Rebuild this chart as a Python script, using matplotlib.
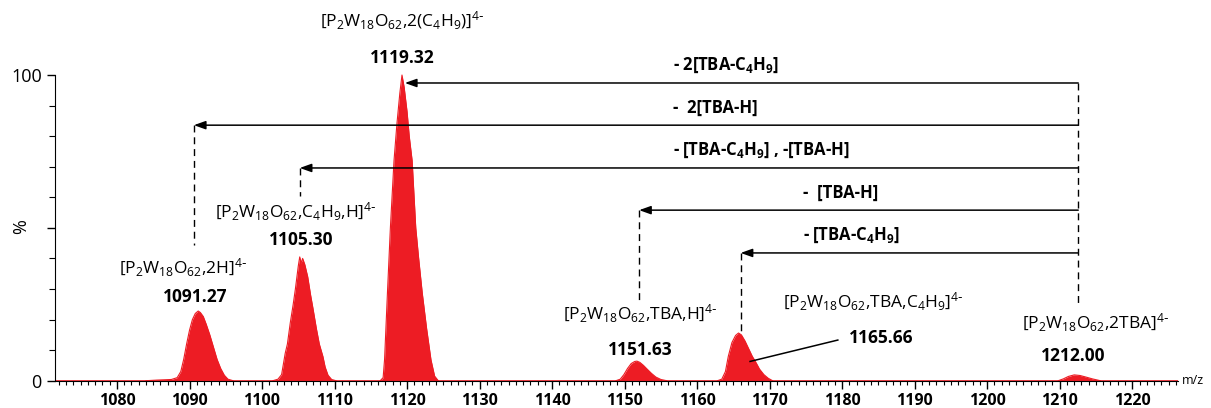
import matplotlib.pyplot as plt
import numpy as np

plt.rcParams['font.family'] = ['Open Sans', 'DejaVu Sans']
plt.rcParams['mathtext.default'] = 'regular'

RED = '#ED1C24'

# isotope-cluster envelopes: m/z and relative intensity (%)
mz_1091 = [1084.0, 1085.5, 1086.5, 1087.5, 1088.3, 1088.8, 1089.2, 1089.6, 1090.0, 1090.4,
           1090.8, 1091.2, 1091.5, 1091.9, 1092.3, 1092.8, 1093.3, 1093.8, 1094.3, 1094.8,
           1095.3, 1096.0]
in_1091 = [0.0, 0.2, 0.3, 0.4, 1.0, 3.0, 7.0, 12.0, 16.5, 20.0,
           22.0, 22.8, 22.3, 21.0, 18.5, 15.0, 11.0, 7.0, 4.0, 1.8,
           0.5, 0.0]

mz_1105 = [1101.5, 1102.2, 1102.7, 1103.2, 1103.5, 1103.9, 1104.3, 1104.6, 1105.0, 1105.2,
           1105.4, 1105.6, 1105.9, 1106.3, 1106.7, 1107.0, 1107.5, 1107.9, 1108.4, 1108.7,
           1109.1, 1109.6, 1110.2]
in_1105 = [0.0, 0.5, 2.0, 9.0, 12.0, 19.0, 25.0, 30.0, 37.5, 40.5,
           38.5, 40.0, 38.0, 34.0, 28.0, 24.0, 17.0, 12.0, 7.9, 4.5,
           1.8, 0.4, 0.0]

mz_1119 = [1116.3, 1116.7, 1116.9, 1117.3, 1117.7, 1118.2, 1118.6, 1119.0, 1119.3, 1119.6,
           1120.0, 1120.3, 1120.7, 1121.2, 1121.6, 1122.1, 1122.7, 1123.3, 1123.8, 1124.3]
in_1119 = [0.0, 1.0, 7.0, 29.0, 50.0, 72.0, 84.0, 94.0, 100.0, 96.0,
           88.0, 80.0, 72.0, 50.0, 40.0, 28.6, 17.0, 6.8, 1.5, 0.0]

mz_1151 = [1148.8, 1149.4, 1149.9, 1150.4, 1150.9, 1151.4, 1151.7, 1152.1, 1152.6, 1153.1,
           1153.7, 1154.3, 1155.0, 1155.8]
in_1151 = [0.0, 0.5, 2.0, 4.0, 5.6, 6.3, 6.4, 6.0, 5.0, 3.8,
           2.4, 1.2, 0.4, 0.0]

mz_1165 = [1162.8, 1163.4, 1163.9, 1164.3, 1164.8, 1165.3, 1165.7, 1166.1, 1166.6, 1167.1,
           1167.6, 1168.1, 1168.6, 1169.2, 1169.8, 1170.4]
in_1165 = [0.0, 0.5, 3.0, 8.0, 12.5, 14.8, 15.6, 15.0, 13.0, 10.5,
           8.0, 6.0, 3.8, 2.0, 0.8, 0.0]

mz_1212 = [1209.8, 1210.5, 1211.2, 1212.0, 1212.8, 1213.6, 1214.5, 1215.6]
in_1212 = [0.0, 0.6, 1.4, 1.9, 1.7, 1.2, 0.6, 0.0]

clusters = [(mz_1091, in_1091), (mz_1105, in_1105), (mz_1119, in_1119),
            (mz_1151, in_1151), (mz_1165, in_1165), (mz_1212, in_1212)]

# peak labels: (x formula, y formula, x value, y value, formula, value)
peak_labels = [
    (1119.3, 117.6, 1119.3, 105.6, r'[P$_2$W$_{18}$O$_{62}$,2(C$_4$H$_9$)]$^{4\text{-}}$', '1119.32'),
    (1104.6, 55.1, 1105.4, 46.0, r'[P$_2$W$_{18}$O$_{62}$,C$_4$H$_9$,H]$^{4\text{-}}$', '1105.30'),
    (1089.1, 36.8, 1090.8, 27.4, r'[P$_2$W$_{18}$O$_{62}$,2H]$^{4\text{-}}$', '1091.27'),
    (1152.2, 22.0, 1152.1, 10.0, r'[P$_2$W$_{18}$O$_{62}$,TBA,H]$^{4\text{-}}$', '1151.63'),
    (1184.3, 25.7, 1185.4, 14.0, r'[P$_2$W$_{18}$O$_{62}$,TBA,C$_4$H$_9$]$^{4\text{-}}$', '1165.66'),
    (1214.9, 18.9, 1211.9, 8.0, r'[P$_2$W$_{18}$O$_{62}$,2TBA]$^{4\text{-}}$', '1212.00'),
]

# loss arrows from the parent ion
SRC_MZ = 1212.55
arrow_tips   = [1119.7, 1090.6, 1105.2, 1152.0, 1166.0]
arrow_levels = [97.4, 83.6, 69.6, 55.8, 41.8]
drop_ends    = [None, 44.3, 60.4, 25.7, 16.0]
arrow_texts  = [r'- 2[TBA-C$_4$H$_9$]', r'-  2[TBA-H]', r'- [TBA-C$_4$H$_9$] , -[TBA-H]',
                r'-  [TBA-H]', r'- [TBA-C$_4$H$_9$]']
arrow_text_x = [1156.7, 1156.7, 1156.7, 1174.6, 1174.6]

fig = plt.figure(figsize=(12.11, 4.08), dpi=100)
ax = fig.add_axes([0.0454, 0.0669, 0.9273, 0.899])

ax.plot([1071.45, 1226.3], [0, 0], color=RED, lw=1.2, zorder=2)
for mz, inten in clusters:
    ax.fill_between(mz, 0, inten, color=RED, lw=0, zorder=2)
    ax.plot(mz, inten, color=RED, lw=0.8, zorder=2)

for xf, yf, xv, yv, formula, value in peak_labels:
    ax.text(xf, yf, formula, ha='center', va='center', fontsize=12.5)
    ax.text(xv, yv, value, ha='center', va='center', fontsize=12.5, fontweight='bold')

ax.plot([1167.3, 1179.4], [6.3, 13.3], color='black', lw=1.1, zorder=3)

dash = (0, (5, 3.5))
ax.plot([SRC_MZ, SRC_MZ], [arrow_levels[0], 24.7], color='black', lw=1.0, ls=dash)
for tip, lvl, drop, txt, tx in zip(arrow_tips, arrow_levels, drop_ends, arrow_texts, arrow_text_x):
    ax.annotate('', xy=(tip, lvl), xytext=(SRC_MZ, lvl),
                arrowprops=dict(arrowstyle='-|>,head_length=0.7,head_width=0.25',
                                color='black', lw=1.1, shrinkA=0, shrinkB=0))
    if drop is not None:
        ax.plot([tip, tip], [lvl, drop], color='black', lw=1.0, ls=dash)
    ax.text(tx, lvl + 5.8, txt, ha='left', va='center', fontsize=12, fontweight='bold')

ax.set_xlim(1071.45, 1226.3)
ax.set_ylim(0, 120)
for side in ['top', 'right']:
    ax.spines[side].set_visible(False)
ax.spines['left'].set_bounds(0, 100)

ax.set_xticks(np.arange(1080, 1221, 10))
ax.set_xticks(np.arange(1072, 1227, 1), minor=True)
ax.set_yticks([0, 50, 100])
ax.set_yticklabels(['0', '', '100'])
ax.set_yticks(np.arange(0, 101, 10), minor=True)
ax.tick_params(axis='x', which='major', length=6, width=1, labelsize=11.5, pad=3)
ax.tick_params(axis='x', which='minor', length=3, width=0.8)
ax.tick_params(axis='y', which='major', length=6, width=1, labelsize=13)
ax.tick_params(axis='y', which='minor', length=4, width=0.8)
for lab in ax.get_xticklabels():
    lab.set_fontweight('bold')

ax.set_ylabel('%', fontsize=13)
ax.yaxis.set_label_coords(-0.022, 0.42)
ax.text(1226.9, 0, 'm/z', ha='left', va='center', fontsize=9, clip_on=False)

plt.savefig('out.png', dpi=100)
plt.close()
